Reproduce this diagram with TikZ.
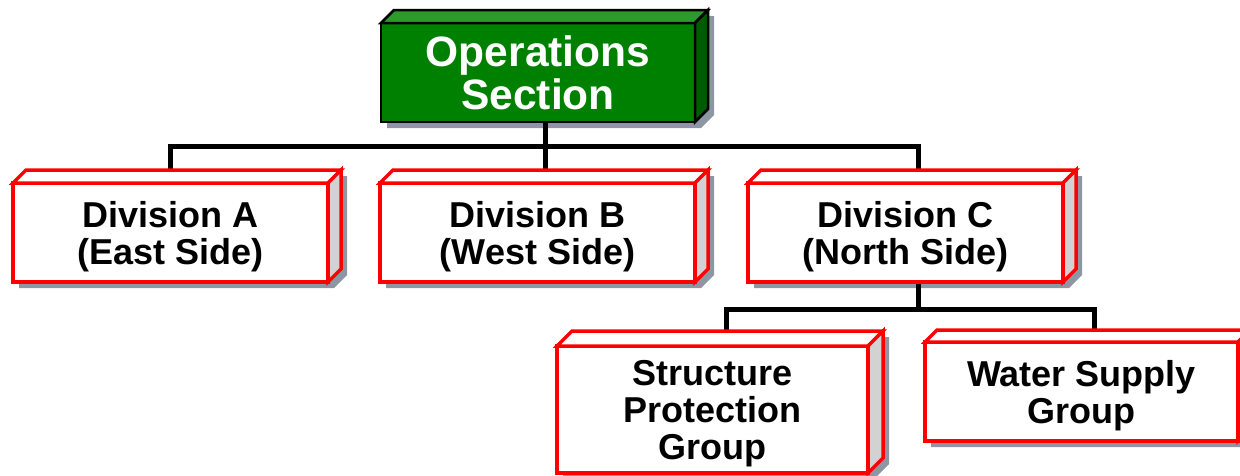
\documentclass[tikz,border=0pt]{standalone}
\usepackage{fontspec}
\setmainfont{Liberation Sans}
\usetikzlibrary{calc}

\definecolor{opsfront}{HTML}{008000}
\definecolor{opstop}{HTML}{2E9A2E}
\definecolor{opsside}{HTML}{005C00}
\definecolor{boxred}{HTML}{FF0000}
\definecolor{boxside}{HTML}{D2D2D2}
\definecolor{shadowc}{HTML}{8C97A3}

\pgfdeclarelayer{shadow}
\pgfdeclarelayer{lines}
\pgfsetlayers{shadow,lines,main}

\tikzset{
  x=1pt, y=-1pt,
  greenbox/.style={draw=black, line width=2.5pt, fill=opsfront, text=white,
    outer sep=0pt, inner sep=0pt, align=center, text depth=0pt,
    font=\bfseries\fontsize{42.5}{43}\selectfont},
  greenbox top/.style={draw=black, line width=2.5pt, fill=opstop},
  greenbox side/.style={draw=black, line width=2.5pt, fill=opsside},
  redbox/.style={draw=boxred, line width=3.5pt, fill=white, text=black,
    outer sep=0pt, inner sep=0pt, align=center, text depth=0pt,
    font=\bfseries\fontsize{36}{37}\selectfont},
  redbox top/.style={draw=boxred, line width=3.5pt, fill=white},
  redbox side/.style={draw=boxred, line width=3.5pt, fill=boxside},
  link/.style={draw=black, line width=5pt},
  linkshadow/.style={draw=shadowc, line width=5pt},
}

% #1 name, #2 style, #3 left, #4 top, #5 right, #6 bottom, #7 depth, #8 text
\newcommand\orgbox[8]{%
  \node[#2, minimum width={(#5-#3)*1pt}, minimum height={(#6-#4)*1pt}]
    (#1) at ({(#3+#5)/2},{(#4+#6)/2}) {#8};
  \path[#2 top] (#1.north west) -- ++(#7,-#7)
    -- ($(#1.north east)+(#7,-#7)$) -- (#1.north east) -- cycle;
  \path[#2 side] (#1.north east) -- ++(#7,-#7)
    -- ($(#1.south east)+(#7,-#7)$) -- (#1.south east) -- cycle;
  \begin{pgfonlayer}{shadow}
    \fill[shadowc] ($(#1.south west)+(6,6)$) -- ($(#1.north west)+(6,6)$)
      -- ++(#7,-#7) -- ($(#1.north east)+(6+#7,6-#7)$)
      -- ($(#1.south east)+(6+#7,6-#7)$) -- ($(#1.south east)+(6,6)$) -- cycle;
  \end{pgfonlayer}%
}

\begin{document}
\begin{tikzpicture}
  \useasboundingbox (0,0) rectangle (1240,475);
  \clip (0,0) rectangle (1240,475);

  % boxes
  \orgbox{ops}{greenbox}{381}{23}{695}{122}{13}{Operations\\Section}
  \orgbox{divA}{redbox}{13}{183}{328}{282}{13}{Division A\\(East Side)}
  \orgbox{divB}{redbox}{380}{183}{695}{282}{13}{Division B\\(West Side)}
  \orgbox{divC}{redbox}{748}{183}{1063}{282}{13}{Division C\\(North Side)}
  \orgbox{spg}{redbox}{557}{346}{868}{473}{15}{Structure\\Protection\\Group}
  \orgbox{wsg}{redbox}{925}{342}{1238}{441}{12}{Water Supply\\Group}

  % junction points of the connectors
  \coordinate (busM) at (545,146);
  \coordinate (busL) at (170,146);
  \coordinate (busR) at (918,146);
  \coordinate (lowM) at (918,309);
  \coordinate (lowL) at (726,309);
  \coordinate (lowR) at (1094,309);

  \begin{pgfonlayer}{lines}
    \begin{scope}[xshift=2pt, yshift=-2pt]
      \path[linkshadow] (busM |- ops.south) -- (busM |- divB.north);
      \path[linkshadow] (busL |- divA.north) -- (busL) -- (busR) -- (busR |- divC.north);
      \path[linkshadow] (lowM |- divC.south) -- (lowM);
      \path[linkshadow] (lowL |- spg.north) -- (lowL) -- (lowR) -- (lowR |- wsg.north);
    \end{scope}
    \path[link] (busM |- ops.south) -- (busM |- divB.north);
    \path[link] (busL |- divA.north) -- (busL) -- (busR) -- (busR |- divC.north);
    \path[link] (lowM |- divC.south) -- (lowM);
    \path[link] (lowL |- spg.north) -- (lowL) -- (lowR) -- (lowR |- wsg.north);
  \end{pgfonlayer}
\end{tikzpicture}
\end{document}
